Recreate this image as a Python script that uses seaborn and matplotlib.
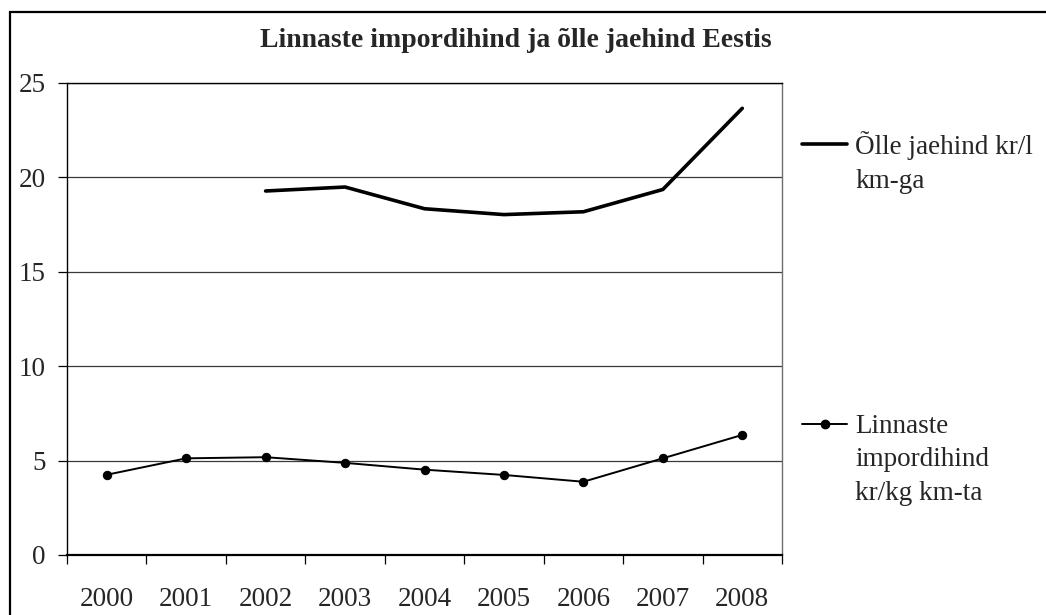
import pandas as pd
import numpy as np
import matplotlib
matplotlib.use("Agg")
import matplotlib.pyplot as plt
import seaborn as sns
from matplotlib.lines import Line2D
from matplotlib.patches import Rectangle
from matplotlib.ticker import FixedLocator

# ==========================================
# DATA
# ==========================================
years = ["2000", "2001", "2002", "2003", "2004", "2005", "2006", "2007", "2008"]
linnaste = [4.25, 5.12, 5.18, 4.88, 4.52, 4.24, 3.88, 5.12, 6.36]
olle = [np.nan, np.nan, 19.28, 19.49, 18.34, 18.03, 18.18, 19.36, 23.66]

title = "Linnaste impordihind ja õlle jaehind Eestis"
label_olle = "Õlle jaehind kr/l\nkm-ga"
label_linnaste = "Linnaste\nimpordihind\nkr/kg km-ta"
y_ticks = [0, 5, 10, 15, 20, 25]

df = pd.DataFrame({"Aasta": years, "Linnaste": linnaste, "Olle": olle})

# ==========================================
# STYLE
# ==========================================
sns.set_style("white")
plt.rcParams["font.family"] = ["Liberation Serif", "DejaVu Serif"]

W, H = 1046, 615
fig = plt.figure(figsize=(W / 100, H / 100), dpi=100)


def px(x):
    return x / W


def py(y):
    return 1 - y / H


# chart area border (cut off on the right and bottom)
fig.add_artist(Rectangle((px(10), -0.2), 1.5, py(12) + 0.2, transform=fig.transFigure,
                         fill=False, edgecolor="black", linewidth=1.6))

ax = fig.add_axes([px(67), py(555), px(782) - px(67), py(83) - py(555)])

# ==========================================
# PLOT
# ==========================================
sns.lineplot(data=df, x="Aasta", y="Linnaste", ax=ax, color="black", linewidth=1.4,
             marker="o", markersize=6, markeredgecolor="black")
sns.lineplot(data=df, x="Aasta", y="Olle", ax=ax, color="black", linewidth=2.6)

ax.set_xlim(-0.5, len(years) - 0.5)
ax.set_ylim(0, 25)
ax.set_yticks(y_ticks)
ax.set_yticklabels([str(t) for t in y_ticks])
ax.xaxis.set_minor_locator(FixedLocator(np.arange(-0.5, len(years), 1)))
ax.tick_params(axis="x", which="major", length=0, pad=23, labelsize=19.5)
ax.tick_params(axis="x", which="minor", direction="out", length=6.5, width=0.9,
               color="black", bottom=True)
ax.tick_params(axis="y", direction="out", length=6.5, width=0.9, color="black",
               left=True, pad=9, labelsize=19.5)
ax.set_xlabel("")
ax.set_ylabel("")

for v in y_ticks[1:]:
    ax.axhline(v, color="#3a3a3a", linewidth=0.9, zorder=0)

ax.spines["left"].set_color("black")
ax.spines["left"].set_linewidth(1.0)
ax.spines["bottom"].set_color("black")
ax.spines["bottom"].set_linewidth(1.6)
ax.spines["top"].set_color("black")
ax.spines["top"].set_linewidth(1.0)
ax.spines["right"].set_color("#6e6e6e")
ax.spines["right"].set_linewidth(1.0)

# ==========================================
# TITLE & LEGEND
# ==========================================
fig.text(px(516), py(47), title, ha="center", va="baseline",
         fontsize=20, fontweight="bold")

fig.add_artist(Line2D([px(802), px(847)], [py(144), py(144)], color="black",
                      linewidth=2.6, transform=fig.transFigure))
fig.text(px(855), py(188), label_olle, ha="left", va="baseline",
         fontsize=19.5, linespacing=1.45)

fig.add_artist(Line2D([px(802), px(847)], [py(424), py(424)], color="black",
                      linewidth=1.4, transform=fig.transFigure))
fig.add_artist(Line2D([px(824.5)], [py(424)], color="black", marker="o",
                      markersize=6, transform=fig.transFigure))
fig.text(px(855), py(500), label_linnaste, ha="left", va="baseline",
         fontsize=19.5, linespacing=1.45)

plt.savefig("out.png", dpi=100)
